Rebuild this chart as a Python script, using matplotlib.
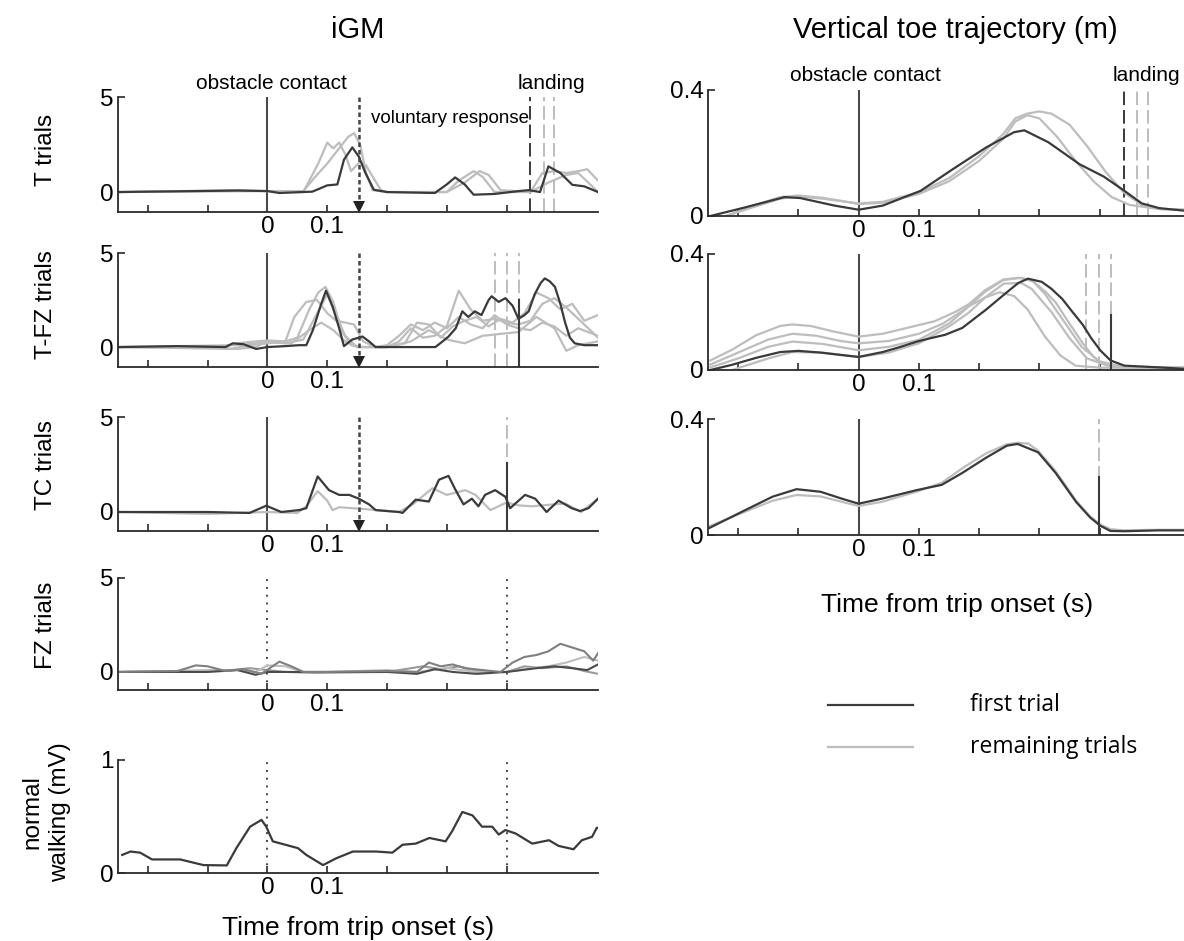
import matplotlib
matplotlib.use("Agg")
import matplotlib.pyplot as plt
from matplotlib.lines import Line2D

plt.rcParams["font.family"] = ["Liberation Sans", "DejaVu Sans"]

W, H = 1184, 941
DARK = "#3a3a3a"
LIGHT = "#bdbdbd"
MID = "#7f7f7f"
MID2 = "#9a9a9a"

# ---- iGM, T trials ----
t_T_first = [-0.25, -0.2, -0.12, -0.05, 0.0, 0.02, 0.075, 0.1, 0.117, 0.128, 0.142, 0.153, 0.164, 0.178,
             0.2, 0.28, 0.3, 0.314, 0.33, 0.345, 0.38, 0.42, 0.437, 0.456, 0.47, 0.49, 0.51, 0.53, 0.553]
y_T_first = [0.0, 0.02, 0.05, 0.08, 0.05, -0.05, 0.02, 0.35, 0.4, 1.7, 2.35, 1.86, 1.0, 0.12,
             0.0, -0.05, 0.4, 0.77, 0.4, -0.14, -0.1, 0.05, 0.1, 0.0, 1.35, 1.0, 0.38, 0.3, 0.0]
t_T_rest1 = [-0.25, -0.05, 0.0, 0.06, 0.08, 0.1, 0.12, 0.135, 0.145, 0.155, 0.165, 0.176, 0.2, 0.3, 0.32,
             0.345, 0.36, 0.38, 0.44, 0.46, 0.48, 0.5, 0.52, 0.535, 0.553]
y_T_rest1 = [0.0, 0.1, 0.05, 0.05, 0.8, 1.5, 2.3, 2.9, 3.1, 2.5, 1.0, 0.1, 0.0, 0.0, 0.6,
             1.1, 0.8, 0.0, 0.0, 1.0, 1.1, 1.0, 1.1, 1.2, 0.6]
t_T_rest2 = [-0.25, 0.0, 0.06, 0.085, 0.1, 0.11, 0.12, 0.13, 0.14, 0.155, 0.165, 0.18, 0.19, 0.2, 0.3,
             0.33, 0.355, 0.37, 0.39, 0.44, 0.47, 0.5, 0.52, 0.54, 0.553]
y_T_rest2 = [0.0, 0.05, 0.0, 1.5, 2.6, 2.3, 2.6, 2.0, 1.1, 1.6, 1.4, 0.6, 0.1, 0.0, 0.0,
             0.5, 1.1, 0.9, 0.1, 0.0, 0.5, 0.9, 1.0, 0.4, 0.0]

# ---- iGM, T-FZ trials ----
t_TFZ_first = [-0.25, -0.15, -0.07, -0.058, -0.04, -0.019, 0.0, 0.03, 0.053, 0.065, 0.076, 0.09, 0.098,
               0.109, 0.12, 0.128, 0.142, 0.159, 0.17, 0.181, 0.22, 0.281, 0.295, 0.303, 0.315, 0.326,
               0.336, 0.347, 0.358, 0.37, 0.375, 0.387, 0.398, 0.41, 0.42, 0.43, 0.437, 0.447, 0.457,
               0.464, 0.472, 0.481, 0.49, 0.498, 0.506, 0.514, 0.53, 0.553]
y_TFZ_first = [0.0, 0.05, 0.0, 0.2, 0.15, -0.1, 0.0, 0.05, 0.1, 0.1, 0.9, 2.3, 3.0,
               2.15, 1.0, 0.05, 0.4, 0.56, 0.3, 0.0, 0.0, 0.0, 0.35, 0.56, 1.0, 1.9,
               1.6, 1.9, 1.7, 2.5, 2.7, 2.4, 2.6, 2.2, 1.5, 1.7, 1.9, 2.8, 3.4,
               3.65, 3.5, 3.2, 2.3, 1.3, 0.5, 0.2, 0.1, 0.1]
t_TFZ_rest1 = [-0.25, -0.1, -0.06, -0.03, 0.0, 0.03, 0.05, 0.07, 0.085, 0.097, 0.11, 0.125, 0.14, 0.16,
               0.2, 0.22, 0.24, 0.26, 0.28, 0.3, 0.32, 0.34, 0.36, 0.38, 0.4, 0.42, 0.44, 0.46, 0.48,
               0.5, 0.52, 0.54, 0.553]
y_TFZ_rest1 = [0.0, 0.0, -0.1, 0.1, 0.2, 0.3, 0.5, 2.0, 2.9, 3.2, 2.4, 0.8, 0.1, 0.0,
               0.0, 0.3, 1.0, 0.5, 0.6, 1.1, 3.0, 2.0, 1.4, 1.5, 1.3, 1.2, 1.4, 2.3, 2.6,
               2.1, 1.5, 0.9, 0.5]
t_TFZ_rest2 = [-0.25, -0.08, -0.05, -0.02, 0.0, 0.03, 0.045, 0.065, 0.083, 0.1, 0.115, 0.13, 0.145, 0.16,
               0.18, 0.2, 0.23, 0.25, 0.27, 0.29, 0.31, 0.33, 0.35, 0.37, 0.39, 0.41, 0.43, 0.45, 0.47,
               0.49, 0.51, 0.53, 0.553]
y_TFZ_rest2 = [0.0, 0.0, 0.2, 0.3, 0.35, 0.3, 1.6, 2.4, 2.5, 1.8, 1.4, 1.3, 1.2, 0.3,
               0.0, 0.0, 0.2, 1.3, 1.2, 0.5, 1.1, 1.4, 1.6, 1.1, 1.5, 1.3, 1.8, 2.9, 2.6,
               2.0, 2.3, 1.4, 1.7]
t_TFZ_rest3 = [-0.25, -0.05, -0.02, 0.0, 0.03, 0.06, 0.08, 0.1, 0.115, 0.13, 0.15, 0.18, 0.2, 0.22, 0.24,
               0.26, 0.28, 0.3, 0.32, 0.34, 0.36, 0.38, 0.4, 0.42, 0.44, 0.46, 0.48, 0.5, 0.52, 0.553]
y_TFZ_rest3 = [0.0, -0.1, 0.0, 0.3, 0.2, 0.4, 1.6, 2.8, 1.7, 0.6, 0.0, 0.0, 0.1, 0.6, 1.2,
               0.9, 1.3, 1.0, 1.6, 1.2, 1.0, 1.7, 1.2, 1.0, 0.9, 1.3, 1.1, 0.6, 1.0, 0.6]
t_TFZ_rest4 = [-0.25, -0.05, 0.0, 0.04, 0.07, 0.09, 0.11, 0.13, 0.15, 0.2, 0.24, 0.27, 0.3, 0.33, 0.36,
               0.39, 0.42, 0.45, 0.48, 0.5, 0.52, 0.553]
y_TFZ_rest4 = [0.0, 0.1, 0.25, 0.2, 0.9, 1.3, 0.9, 0.3, 0.0, 0.0, 0.3, 0.9, 0.4, 0.2, 0.6,
               0.7, 0.8, 1.6, 1.0, -0.2, 0.1, 0.3]

# ---- iGM, TC trials ----
t_TC_first = [-0.25, -0.1, -0.03, -0.002, 0.023, 0.053, 0.065, 0.084, 0.103, 0.12, 0.137, 0.153, 0.17,
              0.181, 0.22, 0.226, 0.248, 0.27, 0.287, 0.303, 0.314, 0.328, 0.342, 0.353, 0.364, 0.381,
              0.398, 0.406, 0.431, 0.448, 0.467, 0.487, 0.509, 0.523, 0.537, 0.553]
y_TC_first = [0.0, 0.0, -0.05, 0.33, 0.0, 0.1, 0.2, 1.87, 1.15, 0.9, 0.9, 0.7, 0.4,
              0.1, 0.0, -0.05, 0.65, 0.55, 1.7, 1.9, 1.2, 0.4, 0.7, 0.3, 0.9, 1.15,
              0.8, 0.2, 0.9, 0.7, 0.0, 0.6, 0.2, 0.05, 0.2, 0.7]
t_TC_rest = [-0.25, -0.1, 0.0, 0.05, 0.065, 0.084, 0.1, 0.109, 0.12, 0.164, 0.22, 0.243, 0.276, 0.3,
             0.331, 0.348, 0.373, 0.4, 0.42, 0.442, 0.498, 0.525, 0.553]
y_TC_rest = [0.0, -0.1, 0.0, -0.05, 0.3, 1.1, 0.6, 0.1, 0.25, 0.15, 0.0, 0.4, 1.25, 0.9,
             1.15, 0.9, 0.1, 0.5, 0.35, 0.3, 0.45, 0.0, 0.7]

# ---- iGM, FZ trials ----
t_FZ_1 = [-0.25, -0.15, -0.12, -0.1, -0.07, -0.04, -0.01, 0.02, 0.04, 0.06, 0.1, 0.2, 0.25, 0.27, 0.29,
          0.31, 0.33, 0.36, 0.39, 0.41, 0.43, 0.45, 0.47, 0.49, 0.51, 0.53, 0.545, 0.553]
y_FZ_1 = [0.0, 0.05, 0.35, 0.3, 0.05, 0.15, -0.1, 0.55, 0.3, 0.0, 0.0, 0.05, 0.0, 0.5, 0.3,
          0.4, 0.2, 0.1, 0.0, 0.5, 0.8, 0.9, 1.1, 1.5, 1.3, 1.1, 0.6, 1.0]
t_FZ_2 = [-0.25, -0.05, -0.02, 0.0, 0.03, 0.06, 0.1, 0.2, 0.25, 0.3, 0.35, 0.4, 0.44, 0.47, 0.5, 0.53, 0.553]
y_FZ_2 = [0.0, 0.1, 0.0, 0.35, 0.3, 0.0, 0.0, 0.1, 0.0, 0.2, 0.0, 0.0, 0.2, 0.3, 0.5, 0.8, 0.6]
t_FZ_3 = [-0.25, -0.1, -0.05, -0.02, 0.0, 0.05, 0.1, 0.2, 0.25, 0.28, 0.31, 0.35, 0.4, 0.45, 0.48, 0.51,
          0.535, 0.553]
y_FZ_3 = [0.0, 0.0, 0.1, -0.15, 0.0, 0.0, 0.0, 0.0, -0.1, 0.15, 0.0, -0.1, 0.0, 0.2, 0.3, 0.2, 0.1, 0.4]
t_FZ_4 = [-0.25, -0.06, -0.03, 0.0, 0.03, 0.08, 0.2, 0.26, 0.29, 0.32, 0.36, 0.4, 0.43, 0.46, 0.5, 0.53, 0.553]
y_FZ_4 = [0.0, 0.1, 0.2, 0.1, 0.0, -0.05, 0.0, 0.3, 0.15, 0.3, 0.0, 0.0, 0.3, 0.2, 0.3, 0.05, -0.1]

# ---- iGM, normal walking ----
t_walk = [-0.243, -0.229, -0.213, -0.193, -0.146, -0.107, -0.068, -0.052, -0.029, -0.01, -0.002, 0.009,
          0.037, 0.051, 0.065, 0.093, 0.115, 0.143, 0.182, 0.209, 0.226, 0.248, 0.271, 0.298, 0.309,
          0.326, 0.343, 0.359, 0.376, 0.387, 0.398, 0.415, 0.443, 0.471, 0.487, 0.512, 0.526, 0.543,
          0.551, 0.56]
y_walk = [0.16, 0.19, 0.18, 0.12, 0.12, 0.07, 0.067, 0.22, 0.41, 0.47, 0.41, 0.28,
          0.24, 0.22, 0.16, 0.07, 0.13, 0.19, 0.19, 0.18, 0.25, 0.26, 0.31, 0.28, 0.37,
          0.54, 0.51, 0.41, 0.41, 0.34, 0.38, 0.35, 0.26, 0.29, 0.24, 0.21, 0.29, 0.32,
          0.4, 0.4]

# ---- toe trajectory, T trials ----
t_toeT_first = [-0.246, -0.189, -0.123, -0.097, -0.04, 0.0, 0.04, 0.103, 0.155, 0.212, 0.258, 0.275,
                0.315, 0.367, 0.407, 0.441, 0.47, 0.499, 0.54]
y_toeT_first = [0.0, 0.027, 0.06, 0.057, 0.033, 0.02, 0.033, 0.08, 0.147, 0.218, 0.266, 0.272,
                0.234, 0.164, 0.125, 0.08, 0.04, 0.025, 0.017]
t_toeT_rest1 = [-0.22, -0.18, -0.13, -0.1, -0.06, -0.02, 0.0, 0.04, 0.1, 0.15, 0.2, 0.24, 0.26, 0.28,
                0.3, 0.32, 0.35, 0.38, 0.41, 0.44, 0.47, 0.5, 0.54]
y_toeT_rest1 = [0.0, 0.03, 0.06, 0.065, 0.058, 0.045, 0.04, 0.045, 0.075, 0.12, 0.19, 0.26, 0.31, 0.325,
                0.332, 0.325, 0.29, 0.22, 0.14, 0.075, 0.035, 0.022, 0.02]
t_toeT_rest2 = [-0.22, -0.18, -0.13, -0.1, -0.06, -0.02, 0.0, 0.04, 0.1, 0.15, 0.2, 0.24, 0.26, 0.28,
                0.3, 0.33, 0.36, 0.39, 0.42, 0.45, 0.5, 0.54]
y_toeT_rest2 = [0.0, 0.025, 0.055, 0.062, 0.055, 0.045, 0.038, 0.042, 0.07, 0.11, 0.175, 0.245, 0.3,
                0.32, 0.31, 0.25, 0.175, 0.11, 0.06, 0.035, 0.022, 0.02]

# ---- toe trajectory, T-FZ trials ----
t_toeTFZ_first = [-0.246, -0.21, -0.17, -0.13, -0.1, -0.063, -0.03, 0.0, 0.04, 0.07, 0.097, 0.12, 0.143,
                  0.172, 0.212, 0.246, 0.265, 0.281, 0.304, 0.32, 0.338, 0.355, 0.372, 0.386, 0.401,
                  0.418, 0.441, 0.499, 0.54]
y_toeTFZ_first = [0.0, 0.018, 0.042, 0.062, 0.066, 0.06, 0.052, 0.045, 0.062, 0.08, 0.098, 0.11, 0.121,
                  0.145, 0.209, 0.268, 0.3, 0.315, 0.304, 0.28, 0.245, 0.2, 0.156, 0.11, 0.068,
                  0.033, 0.015, 0.009, 0.004]
t_toeTFZ_rest1 = [-0.246, -0.21, -0.17, -0.13, -0.11, -0.08, -0.04, 0.0, 0.04, 0.08, 0.126, 0.16, 0.183,
                  0.21, 0.24, 0.265, 0.287, 0.31, 0.327, 0.35, 0.372, 0.39, 0.401, 0.42, 0.44, 0.5, 0.54]
y_toeTFZ_rest1 = [0.033, 0.07, 0.12, 0.152, 0.157, 0.152, 0.132, 0.115, 0.125, 0.145, 0.168, 0.2, 0.227,
                  0.275, 0.312, 0.318, 0.31, 0.27, 0.233, 0.16, 0.092, 0.045, 0.025, 0.012, 0.009, 0.007,
                  0.007]
t_toeTFZ_rest2 = [-0.246, -0.2, -0.15, -0.11, -0.07, -0.03, 0.0, 0.05, 0.1, 0.14, 0.18, 0.21, 0.24, 0.27,
                  0.29, 0.31, 0.34, 0.37, 0.4, 0.44, 0.5, 0.54]
y_toeTFZ_rest2 = [0.019, 0.06, 0.105, 0.125, 0.118, 0.1, 0.092, 0.1, 0.125, 0.16, 0.215, 0.27, 0.31,
                  0.318, 0.305, 0.26, 0.17, 0.08, 0.03, 0.01, 0.008, 0.008]
t_toeTFZ_rest3 = [-0.246, -0.2, -0.15, -0.11, -0.06, 0.0, 0.05, 0.1, 0.15, 0.183, 0.21, 0.234, 0.258,
                  0.28, 0.309, 0.335, 0.36, 0.4, 0.54]
y_toeTFZ_rest3 = [0.009, 0.04, 0.08, 0.098, 0.09, 0.068, 0.08, 0.104, 0.16, 0.22, 0.25, 0.268, 0.255,
                  0.21, 0.116, 0.05, 0.015, 0.008, 0.008]
t_toeTFZ_rest4 = [-0.21, -0.15, -0.11, -0.06, 0.0, 0.05, 0.1, 0.15, 0.183, 0.21, 0.241, 0.27, 0.287,
                  0.32, 0.35, 0.379, 0.418, 0.54]
y_toeTFZ_rest4 = [0.0, 0.04, 0.062, 0.06, 0.045, 0.06, 0.092, 0.15, 0.198, 0.25, 0.298, 0.3, 0.28,
                  0.2, 0.11, 0.04, 0.012, 0.008]

# ---- toe trajectory, TC trials ----
t_toeTC_first = [-0.248, -0.189, -0.143, -0.103, -0.063, -0.029, 0.0, 0.04, 0.097, 0.138, 0.172, 0.212,
                 0.246, 0.264, 0.298, 0.327, 0.361, 0.384, 0.401, 0.418, 0.441, 0.499, 0.54]
y_toeTC_first = [0.024, 0.085, 0.132, 0.158, 0.149, 0.126, 0.108, 0.126, 0.155, 0.173, 0.214, 0.267,
                 0.308, 0.314, 0.285, 0.214, 0.114, 0.061, 0.032, 0.014, 0.013, 0.016, 0.016]
t_toeTC_rest = [-0.248, -0.189, -0.143, -0.103, -0.063, -0.029, 0.0, 0.04, 0.097, 0.138, 0.172, 0.212,
                0.246, 0.264, 0.282, 0.298, 0.327, 0.361, 0.384, 0.401, 0.418, 0.441, 0.499, 0.54]
y_toeTC_rest = [0.03, 0.08, 0.118, 0.138, 0.133, 0.115, 0.1, 0.115, 0.15, 0.18, 0.23, 0.282,
                0.313, 0.318, 0.315, 0.29, 0.22, 0.118, 0.065, 0.036, 0.02, 0.016, 0.018, 0.018]

# event times (s)
VOLUNTARY = 0.153
landing_T_first, landing_T_rest = 0.44, [0.462, 0.48]
landing_TFZ_first, landing_TFZ_rest = 0.421, [0.381, 0.40, 0.421]
landing_TC_first, landing_TC_rest = 0.40, [0.40]
landing_toeTFZ_first, landing_toeTFZ_rest = 0.419, [0.378, 0.399, 0.419]
landing_toeTC_first, landing_toeTC_rest = 0.399, [0.399]
STEP_END = 0.40

XTICKS = [-0.2, -0.1, 0.0, 0.1, 0.2, 0.3, 0.4]
XTICKLABELS = ["", "", "0", "0.1", "", "", ""]

fig = plt.figure(figsize=(W / 100, H / 100), dpi=100)


def add_px_axes(left, top, right, bottom):
    return fig.add_axes([left / W, 1 - bottom / H, (right - left) / W, (bottom - top) / H])


def style(ax, ylim, yticks, yticklabels, xlim=(-0.25, 0.553)):
    ax.set_xlim(*xlim)
    ax.set_ylim(*ylim)
    for s in ("top", "right"):
        ax.spines[s].set_visible(False)
    for s in ("left", "bottom"):
        ax.spines[s].set_color("#2a2a2a")
        ax.spines[s].set_linewidth(1.3)
    ax.spines["left"].set_bounds(ylim[0], yticks[-1])
    ax.set_xticks(XTICKS)
    ax.set_xticklabels(XTICKLABELS)
    ax.set_yticks(yticks)
    ax.set_yticklabels(yticklabels)
    ax.tick_params(direction="in", length=5, width=1.2, labelsize=17.5, color="#2a2a2a", pad=3)
    ax.patch.set_alpha(0)


def landing_lines(ax, xs, color, top):
    for x in xs:
        ax.plot([x, x], [ax.get_ylim()[0], top], color=color, lw=1.4, ls=(0, (7, 2.5)))


def arrow(ax, top, ybot):
    ax.plot([VOLUNTARY, VOLUNTARY], [top, ybot + 0.35], color="#444444", lw=1.8, ls=(0, (1.8, 1.2)))
    ax.plot([VOLUNTARY], [ybot + 0.25], marker="v", color="#222222", ms=8, mew=0)


# left column
ax1 = add_px_axes(118, 97, 598, 212)
ax2 = add_px_axes(118, 253, 598, 367)
ax3 = add_px_axes(118, 417, 598, 531)
ax4 = add_px_axes(118, 578, 598, 690)
ax5 = add_px_axes(118, 760, 598, 873)

style(ax1, (-1.05, 5), [0, 5], ["0", "5"])
style(ax2, (-1.06, 5), [0, 5], ["0", "5"])
style(ax3, (-1.0, 5), [0, 5], ["0", "5"])
style(ax4, (-0.96, 5), [0, 5], ["0", "5"])
style(ax5, (0, 1), [0, 1], ["0", "1"])

# T trials
ax1.axvline(0, color="#4a4a4a", lw=1.5)
landing_lines(ax1, landing_T_rest, LIGHT, 5)
landing_lines(ax1, [landing_T_first], DARK, 5)
ax1.plot(t_T_rest1, y_T_rest1, color=LIGHT, lw=1.6)
ax1.plot(t_T_rest2, y_T_rest2, color=LIGHT, lw=1.6)
ax1.plot(t_T_first, y_T_first, color=DARK, lw=1.6)
arrow(ax1, 5, -1.05)
ax1.text(0.007, 5.2, "obstacle contact", ha="center", va="bottom", fontsize=15)
ax1.text(0.475, 5.2, "landing", ha="center", va="bottom", fontsize=15)
ax1.text(0.173, 3.85, "voluntary response", ha="left", va="center", fontsize=13.5)

# T-FZ trials
ax2.axvline(0, color="#4a4a4a", lw=1.5)
landing_lines(ax2, landing_TFZ_rest, LIGHT, 5)
for t, y in [(t_TFZ_rest1, y_TFZ_rest1), (t_TFZ_rest2, y_TFZ_rest2),
             (t_TFZ_rest3, y_TFZ_rest3), (t_TFZ_rest4, y_TFZ_rest4)]:
    ax2.plot(t, y, color=LIGHT, lw=1.6)
ax2.plot(t_TFZ_first, y_TFZ_first, color=DARK, lw=1.6)
ax2.plot([landing_TFZ_first] * 2, [-1.06, 2.5], color=DARK, lw=1.5)
arrow(ax2, 5, -1.06)

# TC trials
ax3.axvline(0, color="#4a4a4a", lw=1.5)
landing_lines(ax3, landing_TC_rest, LIGHT, 5)
ax3.plot(t_TC_rest, y_TC_rest, color=LIGHT, lw=1.6)
ax3.plot(t_TC_first, y_TC_first, color=DARK, lw=1.6)
ax3.plot([landing_TC_first] * 2, [-1.0, 2.6], color=DARK, lw=1.5)
arrow(ax3, 5, -1.0)

# FZ trials
for x in (0, STEP_END):
    ax4.plot([x, x], [-0.96, 5], color="#444444", lw=1.4, ls=(0, (1, 3)))
ax4.plot(t_FZ_4, y_FZ_4, color=MID2, lw=1.5)
ax4.plot(t_FZ_2, y_FZ_2, color=LIGHT, lw=1.5)
ax4.plot(t_FZ_3, y_FZ_3, color="#4a4a4a", lw=1.5)
ax4.plot(t_FZ_1, y_FZ_1, color=MID, lw=1.5)

# normal walking
for x in (0, STEP_END):
    ax5.plot([x, x], [0, 1], color="#444444", lw=1.4, ls=(0, (1, 3)))
ax5.plot(t_walk, y_walk, color=DARK, lw=1.6, clip_on=True)

# right column
r1 = add_px_axes(708, 90, 1190, 216)
r2 = add_px_axes(708, 254, 1190, 370)
r3 = add_px_axes(708, 419, 1190, 535)
for r in (r1, r2, r3):
    style(r, (0, 0.4), [0, 0.4], ["0", "0.4"], xlim=(-0.25, 0.55))
    r.axvline(0, color="#4a4a4a", lw=1.5)

landing_lines(r1, landing_T_rest, LIGHT, 0.4)
landing_lines(r1, [landing_T_first], DARK, 0.4)
r1.plot(t_toeT_rest1, y_toeT_rest1, color=LIGHT, lw=1.6)
r1.plot(t_toeT_rest2, y_toeT_rest2, color=LIGHT, lw=1.6)
r1.plot(t_toeT_first, y_toeT_first, color=DARK, lw=1.6)
r1.text(0.012, 0.415, "obstacle contact", ha="center", va="bottom", fontsize=15)
r1.text(0.478, 0.415, "landing", ha="center", va="bottom", fontsize=15)

landing_lines(r2, landing_toeTFZ_rest, LIGHT, 0.4)
for t, y in [(t_toeTFZ_rest1, y_toeTFZ_rest1), (t_toeTFZ_rest2, y_toeTFZ_rest2),
             (t_toeTFZ_rest3, y_toeTFZ_rest3), (t_toeTFZ_rest4, y_toeTFZ_rest4)]:
    r2.plot(t, y, color=LIGHT, lw=1.6)
r2.plot(t_toeTFZ_first, y_toeTFZ_first, color=DARK, lw=1.6)
r2.plot([landing_toeTFZ_first] * 2, [0, 0.19], color=DARK, lw=1.5)

landing_lines(r3, landing_toeTC_rest, LIGHT, 0.4)
r3.plot(t_toeTC_rest, y_toeTC_rest, color=LIGHT, lw=1.6)
r3.plot(t_toeTC_first, y_toeTC_first, color=DARK, lw=1.6)
r3.plot([landing_toeTC_first] * 2, [0, 0.2], color=DARK, lw=1.5)

# titles and labels
narrow = ["Liberation Sans Narrow", "Liberation Sans", "DejaVu Sans"]
fig.text(358 / W, 1 - 30 / H, "iGM", ha="center", va="center", fontsize=21, family=narrow)
fig.text(955 / W, 1 - 30 / H, "Vertical toe trajectory (m)", ha="center", va="center",
         fontsize=21, family=narrow)
for label, yc in [("T trials", 150), ("T-FZ trials", 305), ("TC trials", 465), ("FZ trials", 625)]:
    fig.text(46 / W, 1 - yc / H, label, rotation=90, ha="center", va="center", fontsize=17.5)
fig.text(46 / W, 1 - 812 / H, "normal\nwalking (mV)", rotation=90, ha="center", va="center",
         fontsize=17.5, linespacing=1.3)
fig.text(358 / W, 1 - 928 / H, "Time from trip onset (s)", ha="center", va="center", fontsize=19)
fig.text(957 / W, 1 - 605 / H, "Time from trip onset (s)", ha="center", va="center", fontsize=19)

# legend
fig.add_artist(Line2D([828 / W, 913 / W], [1 - 705 / H] * 2, color=DARK, lw=1.6))
fig.add_artist(Line2D([828 / W, 913 / W], [1 - 747 / H] * 2, color=LIGHT, lw=1.6))
fig.text(970 / W, 1 - 705 / H, "first trial", ha="left", va="center", fontsize=16.5,
         family=["Open Sans", "DejaVu Sans"])
fig.text(970 / W, 1 - 747 / H, "remaining trials", ha="left", va="center", fontsize=16.5,
         family=["Open Sans", "DejaVu Sans"])

fig.savefig("out.png", dpi=100)
